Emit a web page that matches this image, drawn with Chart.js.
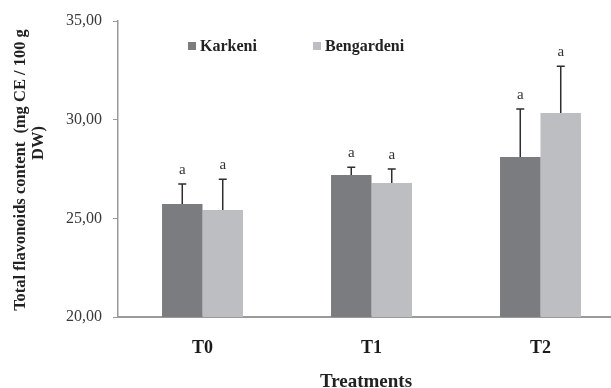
<!DOCTYPE html>
<html>
<head>
<meta charset="utf-8">
<script src="https://cdn.jsdelivr.net/npm/chart.js@4.4.1/dist/chart.umd.min.js"></script>
<style>
  html, body { margin: 0; padding: 0; background: #ffffff; overflow: hidden; }
  #wrap { width: 611px; height: 388px; overflow: hidden; position: relative; }
  canvas { display: block; }
</style>
</head>
<body>
<div id="wrap"><canvas id="chart" width="626" height="388"></canvas></div>
<script>
// Treatments on the category axis
const categories = ['T0', 'T1', 'T2'];

// Mean total flavonoid content per cultivar (mg CE / 100 g DW)
const karkeni = [25.73, 27.20, 28.11];
const bengardeni = [25.42, 26.79, 30.34];

// Standard deviations drawn as upward error bars
const karkeniErr = [1.01, 0.39, 2.43];
const bengardeniErr = [1.56, 0.71, 2.37];

// Significance letters above each bar
const karkeniLetters = ['a', 'a', 'a'];
const bengardeniLetters = ['a', 'a', 'a'];

// Y axis ticks
const yTicks = [20, 25, 30, 35];

const yTitleLines = ['Total flavonoids content  (mg CE / 100 g', 'DW)'];
const xTitle = 'Treatments';

const SERIF = '"Liberation Serif", "Times New Roman", serif';
const DARK = '#7b7c80';
const LIGHT = '#bdbec2';
const AXIS = '#9a9a9a';

// Error bars and letters drawn from dataset values through the y scale
const errorBarPlugin = {
  id: 'errorBars',
  afterDatasetsDraw(chart) {
    const ctx = chart.ctx;
    const y = chart.scales.y;
    chart.data.datasets.forEach((ds, di) => {
      const meta = chart.getDatasetMeta(di);
      meta.data.forEach((bar, i) => {
        const v = ds.data[i];
        const top = y.getPixelForValue(v + ds.errors[i]);
        ctx.save();
        ctx.strokeStyle = '#2e2e2e';
        ctx.lineWidth = 1.5;
        ctx.beginPath();
        ctx.moveTo(bar.x, bar.y);
        ctx.lineTo(bar.x, top);
        ctx.moveTo(bar.x - 4, top);
        ctx.lineTo(bar.x + 4, top);
        ctx.stroke();
        ctx.fillStyle = '#333333';
        ctx.font = '15px ' + SERIF;
        ctx.textAlign = 'center';
        ctx.textBaseline = 'alphabetic';
        ctx.fillText(ds.letters[i], bar.x, top - 10);
        ctx.restore();
      });
    });
  }
};

// Legend inside the plot, axis titles
const decorPlugin = {
  id: 'decor',
  afterDraw(chart) {
    const ctx = chart.ctx;
    ctx.save();
    // legend
    const legendPos = [188, 313];
    ctx.font = 'bold 16px ' + SERIF;
    ctx.textBaseline = 'middle';
    ctx.textAlign = 'left';
    chart.data.datasets.forEach((ds, di) => {
      const lx = legendPos[di];
      ctx.fillStyle = ds.backgroundColor;
      ctx.fillRect(lx, 42, 8, 8);
      ctx.fillStyle = '#222222';
      ctx.fillText(ds.label, lx + 12, 47);
    });
    // y title (two rotated lines)
    ctx.font = 'bold 16.5px ' + SERIF;
    ctx.fillStyle = '#222222';
    ctx.textAlign = 'center';
    ctx.textBaseline = 'middle';
    ctx.save();
    ctx.translate(21, 170);
    ctx.rotate(-Math.PI / 2);
    ctx.fillText(yTitleLines[0], 0, 0);
    ctx.restore();
    ctx.save();
    ctx.translate(39, 143);
    ctx.rotate(-Math.PI / 2);
    ctx.fillText(yTitleLines[1], 0, 0);
    ctx.restore();
    // x title
    ctx.font = 'bold 19px ' + SERIF;
    ctx.textBaseline = 'alphabetic';
    ctx.fillText(xTitle, 366, 387);
    ctx.restore();
  }
};

new Chart(document.getElementById('chart'), {
  type: 'bar',
  data: {
    labels: categories,
    datasets: [
      { label: 'Karkeni', data: karkeni, errors: karkeniErr, letters: karkeniLetters,
        backgroundColor: DARK, borderWidth: 0 },
      { label: 'Bengardeni', data: bengardeni, errors: bengardeniErr, letters: bengardeniLetters,
        backgroundColor: LIGHT, borderWidth: 0 }
    ]
  },
  options: {
    responsive: false,
    animation: false,
    devicePixelRatio: 1,
    layout: { padding: { top: 21, right: 1, bottom: 0, left: 0 } },
    datasets: { bar: { categoryPercentage: 0.479, barPercentage: 1.0 } },
    plugins: { legend: { display: false }, tooltip: { enabled: false } },
    scales: {
      x: {
        grid: { display: false },
        border: { display: true, color: AXIS, width: 2 },
        ticks: { color: '#1a1a1a', font: { family: SERIF, size: 18, weight: 'bold' }, padding: 13 },
        afterFit(s) { s.height = 71; }
      },
      y: {
        min: 20,
        max: 35,
        afterBuildTicks(s) { s.ticks = yTicks.map(v => ({ value: v })); },
        grid: { drawOnChartArea: false, drawTicks: true, tickLength: 5, color: AXIS, lineWidth: 1 },
        border: { display: true, color: AXIS, width: 1.5 },
        ticks: {
          color: '#3a3a3a',
          font: { family: SERIF, size: 16 },
          padding: 11,
          callback: v => Number(v).toFixed(2).replace('.', ',')
        },
        afterFit(s) { s.width = 118; }
      }
    }
  },
  plugins: [errorBarPlugin, decorPlugin]
});
</script>
</body>
</html>
